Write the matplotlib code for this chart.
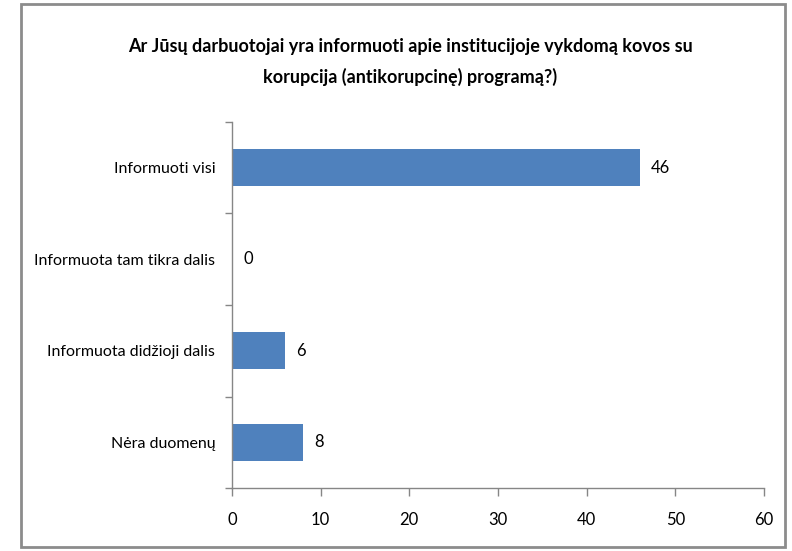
import matplotlib

matplotlib.use("Agg")

import matplotlib.pyplot as plt
from matplotlib.patches import Rectangle

# Survey answers, top to bottom as shown in the chart.
categories = [
    "Informuoti visi",
    "Informuota tam tikra dalis",
    "Informuota didžioji dalis",
    "Nėra duomenų",
]
counts = [46, 0, 6, 8]
x_ticks = [0, 10, 20, 30, 40, 50, 60]

title = ("Ar Jūsų darbuotojai yra informuoti apie institucijoje vykdomą kovos su\n"
         "korupcija (antikorupcinę) programą?)")

# Calibri is not available; Lato is the closest narrow humanist face installed.
plt.rcParams["font.family"] = ["Lato", "DejaVu Sans"]

BAR_COLOR = "#4f81bd"
AXIS_COLOR = "#868686"

fig = plt.figure(figsize=(7.92, 5.51), dpi=100)
ax = fig.add_axes([0.2929, 0.1143, 0.6717, 0.6643])

positions = list(range(len(categories)))
ax.barh(positions, counts, height=0.4, color=BAR_COLOR)

for pos, value in zip(positions, counts):
    ax.annotate(str(value), xy=(value, pos), xytext=(8, 0),
                textcoords="offset points", va="center", ha="left",
                fontsize=12, color="black")

ax.set_ylim(len(categories) - 0.5, -0.5)
ax.set_yticks(positions)
ax.set_yticklabels(categories, fontsize=11.5)
ax.tick_params(axis="y", which="major", length=0, pad=12)
ax.set_yticks([p - 0.5 for p in positions] + [len(categories) - 0.5], minor=True)
ax.tick_params(axis="y", which="minor", length=5, color=AXIS_COLOR, width=1)

ax.set_xlim(0, 60)
ax.set_xticks(x_ticks)
ax.set_xticklabels([str(t) for t in x_ticks], fontsize=12)
ax.tick_params(axis="x", length=6, color=AXIS_COLOR, width=1, pad=11)

for side in ("top", "right"):
    ax.spines[side].set_visible(False)
for side in ("left", "bottom"):
    ax.spines[side].set_color(AXIS_COLOR)
    ax.spines[side].set_linewidth(1)

fig.text(0.518, 0.887, title, ha="center", va="center", fontsize=13,
         fontweight="bold", linespacing=1.85)

# Grey frame around the whole chart area.
fig.patches.append(Rectangle((21 / 792, 4 / 551), 764 / 792, 543 / 551,
                             transform=fig.transFigure, fill=False,
                             edgecolor="#8c8c8c", linewidth=2))

fig.savefig("out.png", dpi=100)
plt.close(fig)
